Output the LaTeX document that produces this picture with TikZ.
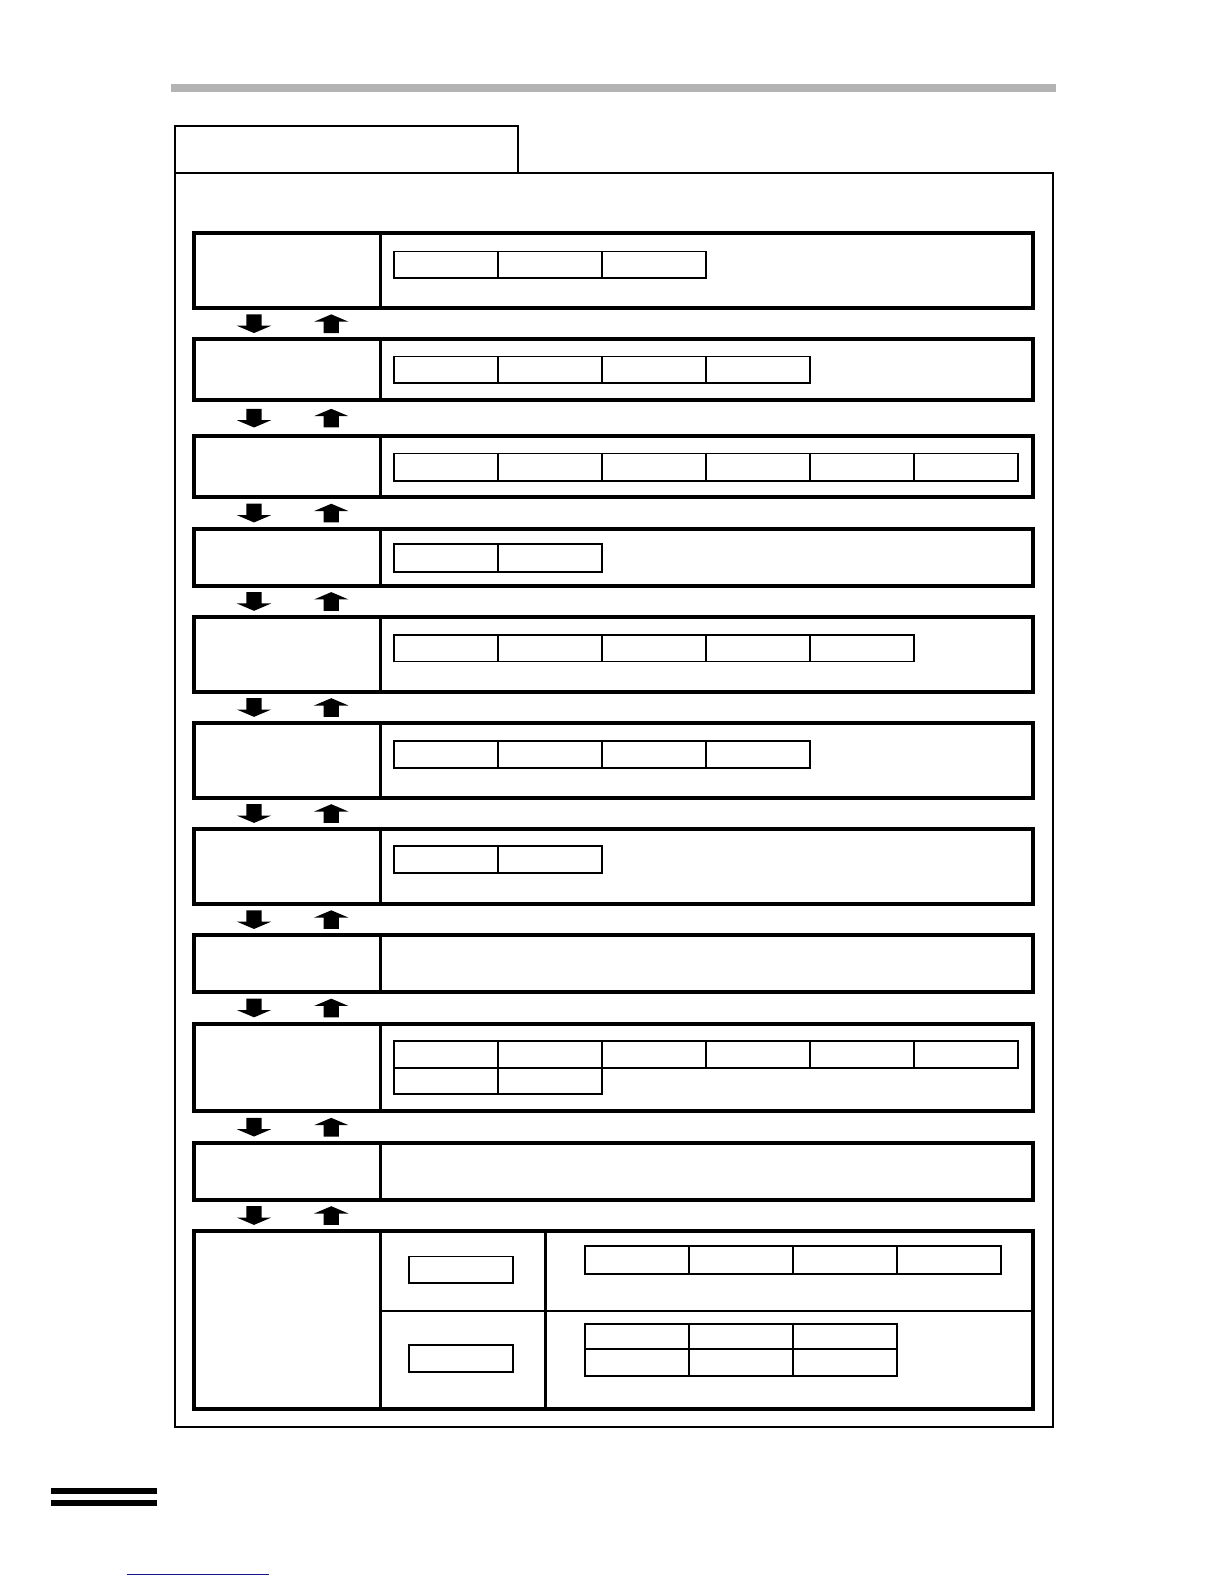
\documentclass[tikz,border=0pt]{standalone}
\usepackage{tikz}

\tikzset{
  rowbox/.style={line width=3pt},
  split/.style={line width=2.2pt},
  cellbox/.style={line width=1.4pt},
  framebox/.style={line width=1.5pt}
}
\definecolor{bargray}{RGB}{179,179,179}
\definecolor{linkblue}{RGB}{20,20,140}

% block arrows between the rows
\newcommand{\dnarrow}[2]{\fill (#1-7.5,#2-9.25) -- (#1+7.5,#2-9.25) -- (#1+7.5,#2+2) -- (#1+17,#2+2) -- (#1,#2+9.25) -- (#1-17,#2+2) -- (#1-7.5,#2+2) -- cycle;}
\newcommand{\uparr}[2]{\fill (#1-7.5,#2+9.25) -- (#1+7.5,#2+9.25) -- (#1+7.5,#2-2) -- (#1+17,#2-2) -- (#1,#2-9.25) -- (#1-17,#2-2) -- (#1-7.5,#2-2) -- cycle;}
% a strip of n cells
\newcommand{\cells}[4]{\foreach \i in {1,...,#4} {\draw[cellbox] ({#1+(\i-1)*103},#2) rectangle ({#1+\i*103},#3);}}

\begin{document}
\begin{tikzpicture}[x=0.7575pt,y=-0.7575pt]
    \useasboundingbox (0,0) rectangle (1212,1568.3);

    % header bar
    \fill[bargray] (169,83) rectangle (1046,91);

    % tab and frame
    \draw[framebox] (173,125) rectangle (513,171);
    \draw[framebox] (173,171) rectangle (1043,1413);

    % rows
    \foreach \t/\b in {231/305,336/396,432/492,524/580,611/685,716/790,821/895,926/982,1014/1100,1132/1188,1219/1395} {
        \draw[rowbox] (192,\t) rectangle (1023,\b);
        \draw[split] (377,\t) -- (377,\b);
    }

    \cells{390}{249}{275}{3}
    \cells{390}{353}{379}{4}
    \cells{390}{449}{476}{6}
    \cells{390}{539}{566}{2}
    \cells{390}{629}{655}{5}
    \cells{390}{734}{760}{4}
    \cells{390}{838}{864}{2}
    \cells{390}{1031}{1057}{6}
    \cells{390}{1057}{1083}{2}

    % last row
    \draw[split] (540,1219) -- (540,1395);
    \draw[split] (377,1298) -- (1023,1298);
    \draw[cellbox] (405,1244) rectangle (508,1270);
    \draw[cellbox] (405,1332) rectangle (508,1358);
    \cells{579}{1234}{1261}{4}
    \cells{579}{1311}{1336}{3}
    \cells{579}{1336}{1362}{3}

    % arrows
    \foreach \y in {320.5,414,508,595.5,700.5,805.5,910.5,998,1116,1203.5} {
        \dnarrow{251.5}{\y}
        \uparr{328}{\y}
    }

    % footer marks
    \fill (50.5,1473) rectangle (155.5,1479);
    \fill (50.5,1485) rectangle (155.5,1491);
    \draw[linkblue,line width=1pt] (126,1559) -- (266,1559);
\end{tikzpicture}
\end{document}
